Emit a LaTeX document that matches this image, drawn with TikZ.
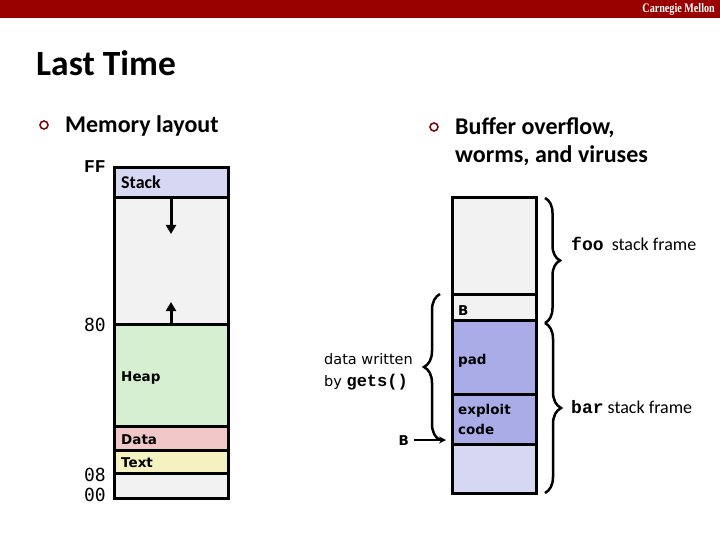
\documentclass[tikz,border=0pt]{standalone}
\usepackage{fontspec}
\setmainfont{Carlito}
\newfontfamily\vfont{DejaVu Sans}
\newfontfamily\cfont{Liberation Mono}
\newfontfamily\dmono{DejaVu Sans Mono}
\newfontfamily\tfont{Liberation Serif}
\usetikzlibrary{arrows.meta,decorations.pathreplacing}
\definecolor{hdr}{HTML}{990000}
\definecolor{bul}{HTML}{7A0A0A}
\definecolor{lgray}{HTML}{F2F2F2}
\definecolor{stackblue}{HTML}{D5D7F3}
\definecolor{heapgreen}{HTML}{D7EFD1}
\definecolor{datapink}{HTML}{F2C7C7}
\definecolor{textyellow}{HTML}{F5F1C1}
\definecolor{padblue}{HTML}{AAACE8}
\tikzset{
  region/.style={draw=black, line width=3pt, rectangle, anchor=north west, inner sep=0pt, outer sep=0pt},
  lbl/.style={anchor=base west, inner sep=0pt, font=\vfont\bfseries\fontsize{13.5}{15}\selectfont},
  addr/.style={anchor=base east, inner sep=0pt, font=\dmono\fontsize{18}{20}\selectfont},
  bigtext/.style={anchor=base west, inner sep=0pt, font=\bfseries\fontsize{24}{28}\selectfont},
  bulletmark/.style={circle, draw=bul, line width=1.6pt, minimum size=8pt, inner sep=0pt},
  framelbl/.style={anchor=base west, inner sep=0pt, font=\fontsize{18}{20}\selectfont},
  growarrow/.style={line width=3pt, -{Triangle[width=10pt,length=9pt]}},
  bracestyle/.style={line width=2.5pt, decorate, decoration={brace, amplitude=#1}},
}
\begin{document}
\begin{tikzpicture}[x=1pt,y=-1pt]
\useasboundingbox (0,0) rectangle (720,540);
\fill[white] (0,0) rectangle (720,540);
% header
\node[fill=hdr, anchor=north west, minimum width=720pt, minimum height=18pt, inner sep=0pt] (header) at (0,0) {};
\node[anchor=base east, inner sep=0pt, text=white, font=\tfont\bfseries\fontsize{13}{14}\selectfont] (cmu) at (715,13) {\scalebox{0.78}[1]{Carnegie Mellon}};
% title
\node[anchor=base west, inner sep=0pt, font=\bfseries\fontsize{35.5}{40}\selectfont] (title) at (36,76) {Last Time};
% bullets
\node[bulletmark] (b1) at (44,125) {};
\node[bigtext] (mem) at (65,133) {Memory layout};
\node[bulletmark] (b2) at (434,127) {};
\node[bigtext] (buf1) at (455,135) {Buffer overflow,};
\node[bigtext] (buf2) at (455,163) {worms, and viruses};

% left memory column
\node[region, fill=stackblue, minimum width=114pt, minimum height=30pt] (stack) at (114,168) {};
\node[region, fill=lgray, minimum width=114pt, minimum height=126pt] (free) at (114,198) {};
\node[region, fill=heapgreen, minimum width=114pt, minimum height=102pt] (heap) at (114,324) {};
\node[region, fill=datapink, minimum width=114pt, minimum height=24pt] (data) at (114,426) {};
\node[region, fill=textyellow, minimum width=114pt, minimum height=23pt] (text) at (114,450) {};
\node[region, fill=lgray, minimum width=114pt, minimum height=25pt] (low) at (114,473) {};

\node[anchor=base west, inner sep=0pt, font=\bfseries\fontsize{18}{20}\selectfont] (stacklbl) at (121,189) {Stack};
\node[lbl] (heaplbl) at (121,381) {Heap};
\node[lbl] (datalbl) at (121,444) {Data};
\node[lbl] (textlbl) at (121,467) {Text};

\coordinate (downend) at (171,234);
\coordinate (upend) at (171,302);
\draw[growarrow] (stack.south -| downend) -- (downend);
\draw[growarrow] (heap.north -| upend) -- (upend);

\node[addr, font=\cfont\bfseries\fontsize{18}{20}\selectfont] (aFF) at (106,173) {FF};
\node[addr] (a80) at (106,331) {80};
\node[addr] (a08) at (106,481) {08};
\node[addr] (a00) at (106,501) {00};

% right stack column
\node[region, fill=lgray, minimum width=84pt, minimum height=96pt] (foo) at (452,198) {};
\node[region, fill=lgray, minimum width=84pt, minimum height=26pt] (bbox) at (452,294) {};
\node[region, fill=padblue, minimum width=84pt, minimum height=74pt] (pad) at (452,320) {};
\node[region, fill=padblue, minimum width=84pt, minimum height=50pt] (exploit) at (452,394) {};
\node[region, fill=stackblue, minimum width=84pt, minimum height=49pt] (bottom) at (452,444) {};

\node[lbl] (blbl) at (458,315) {B};
\node[lbl] (padlbl) at (458,364) {pad};
\node[lbl] (ex1) at (458,414) {exploit};
\node[lbl] (ex2) at (458,434) {code};

% braces
\coordinate (fooTop) at (545,198);
\coordinate (fooBot) at (545,323);
\coordinate (barBot) at (545,493);
\draw[bracestyle=15pt] (fooTop) -- (fooBot);
\draw[bracestyle=16pt] (fooBot) -- (barBot);
\coordinate (dwTop) at (440,294);
\coordinate (dwBot) at (440,440);
\draw[bracestyle=16pt] (dwBot) -- (dwTop);

\node[framelbl] (foolbl) at (571,250) {{\cfont\bfseries foo}\ \ stack frame};
\node[framelbl] (barlbl) at (571,413) {{\cfont\bfseries bar} stack frame};

\node[anchor=base west, inner sep=0pt, font=\vfont\fontsize{14.5}{16}\selectfont] (dw1) at (324,364) {data written};
\node[anchor=base west, inner sep=0pt, font=\vfont\fontsize{14.5}{16}\selectfont] (dw2) at (324,386) {by {\cfont\bfseries\fontsize{17}{18}\selectfont gets()}};

\node[lbl, anchor=base east] (bptr) at (409,445) {B};
\coordinate (bend) at (446,440);
\draw[line width=2pt, -{Stealth[width=7pt,length=7pt]}] ([xshift=5pt]bptr.east |- bend) -- (bend);
\end{tikzpicture}
\end{document}
